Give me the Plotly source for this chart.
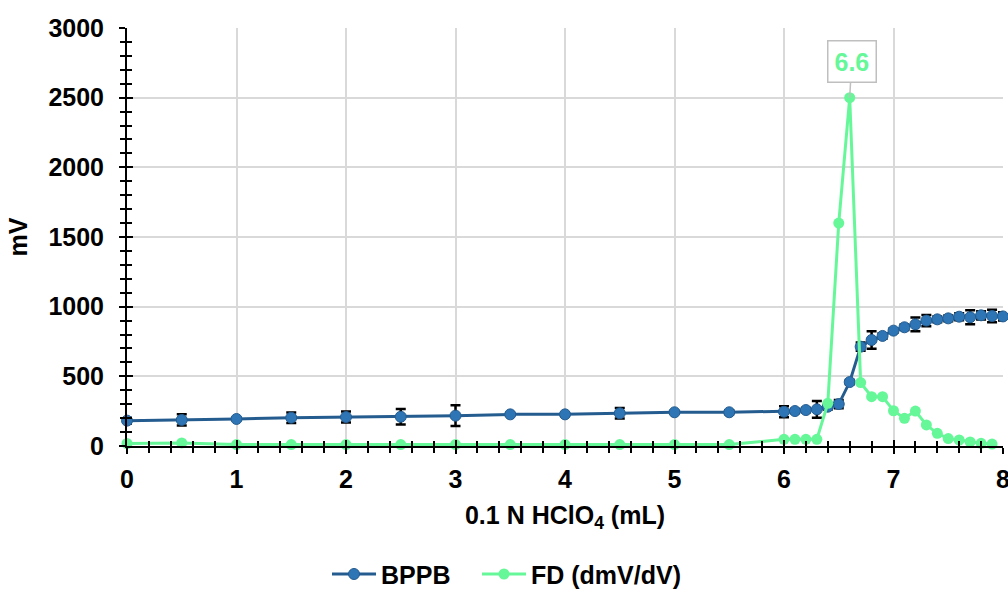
import plotly.graph_objects as go

# Titrant volume (mL) and potential readings
vol_bppb = [0, 0.5, 1, 1.5, 2, 2.5, 3, 3.5, 4, 4.5, 5, 5.5,
            6.0, 6.1, 6.2, 6.3, 6.4, 6.5, 6.6, 6.7, 6.8, 6.9,
            7.0, 7.1, 7.2, 7.3, 7.4, 7.5, 7.6, 7.7, 7.8, 7.9, 8.0]
mv_bppb = [182, 187, 194, 203, 208, 210, 218, 227, 227, 235, 242, 242,
           246, 251, 258, 263, 282, 301, 459, 713, 761, 790,
           828, 852, 873, 900, 909, 916, 928, 924, 938, 933, 930]
err_bppb = [20, 40, 10, 38, 40, 55, 75, 10, 10, 38, 10, 15,
            40, 15, 15, 60, 20, 30, 15, 30, 63, 20,
            15, 20, 50, 40, 20, 20, 25, 50, 30, 45, 30]

# First derivative curve
vol_fd = [0, 0.5, 1, 1.5, 2, 2.5, 3, 3.5, 4, 4.5, 5, 5.5,
          6.0, 6.1, 6.2, 6.3, 6.4, 6.5, 6.6, 6.7, 6.8, 6.9,
          7.0, 7.1, 7.2, 7.3, 7.4, 7.5, 7.6, 7.7, 7.8, 7.9]
fd = [18, 22, 10, 10, 10, 10, 10, 10, 10, 10, 10, 10,
      48, 48, 48, 48, 306, 1600, 2500, 455, 354, 354,
      253, 199, 251, 151, 91, 53, 43, 29, 19, 14]

BLUE_LINE = "#245c8f"
BLUE_FILL = "#2e75b6"
GREEN = "#66f799"
FONT = "Liberation Sans"

fig = go.Figure()

fig.add_trace(go.Scatter(
    x=vol_bppb, y=mv_bppb, name="BPPB", mode="lines+markers",
    line=dict(color=BLUE_LINE, width=3),
    marker=dict(size=11, color=BLUE_FILL, line=dict(color=BLUE_LINE, width=1)),
    error_y=dict(type="data", array=err_bppb, visible=True,
                 color="black", thickness=2.5, width=5),
    cliponaxis=False, legend="legend",
))

fig.add_trace(go.Scatter(
    x=vol_fd, y=fd, name="FD (dmV/dV)", mode="lines+markers",
    line=dict(color=GREEN, width=3),
    marker=dict(size=11, color=GREEN),
    cliponaxis=False, legend="legend2",
))

# Invisible trace that carries the inner half of the crossing ticks
fig.add_trace(go.Scatter(x=[0], y=[0], xaxis="x2", yaxis="y2",
                         mode="markers", marker=dict(opacity=0),
                         showlegend=False, hoverinfo="skip"))

peak_i = fd.index(max(fd))
peak_x = vol_fd[peak_i]
fig.add_annotation(
    x=peak_x, y=fd[peak_i], text=f"{peak_x:.1f}",
    showarrow=True, arrowhead=0, arrowcolor="#bfbfbf", arrowwidth=1.5,
    ax=2, ay=-36, standoff=0,
    bordercolor="#bfbfbf", borderwidth=1.5, borderpad=6, bgcolor="white",
    font=dict(family=FONT, size=25, color=GREEN, weight=700),
)

tickfont = dict(family=FONT, size=25, color="black", weight=700)
legend_font = dict(family=FONT, size=25, color="black", weight=700)

fig.update_layout(
    width=1008, height=592,
    margin=dict(l=127, r=5, t=28, b=146),
    paper_bgcolor="white", plot_bgcolor="white",
    showlegend=True,
    legend=dict(orientation="h", xref="container", x=327 / 1008, xanchor="left",
                yref="container", y=0.03, yanchor="middle",
                font=legend_font, itemwidth=44),
    legend2=dict(orientation="h", xref="container", x=477 / 1008, xanchor="left",
                 yref="container", y=0.03, yanchor="middle",
                 font=legend_font, itemwidth=44),
    xaxis=dict(
        range=[0, 8], dtick=1, tick0=0, automargin=False,
        showgrid=True, gridcolor="#d9d9d9", gridwidth=2,
        showline=True, linecolor="black", linewidth=2,
        ticks="outside", ticklen=6, tickwidth=2, tickcolor="black",
        minor=dict(dtick=0.2, ticks="outside", ticklen=5, tickwidth=1.5,
                   tickcolor="black", showgrid=False),
        tickfont=tickfont, zeroline=False, ticklabeloverflow="allow",
        ticklabelstandoff=4,
        title=dict(text="0.1 N HClO<sub>4</sub> (mL)", font=tickfont, standoff=14),
    ),
    yaxis=dict(
        range=[0, 3000], dtick=500, tick0=0, automargin=False,
        showgrid=True, gridcolor="#d9d9d9", gridwidth=2,
        showline=True, linecolor="black", linewidth=2,
        ticks="outside", ticklen=6, tickwidth=2, tickcolor="black",
        minor=dict(dtick=100, ticks="outside", ticklen=5, tickwidth=1.5,
                   tickcolor="black", showgrid=False),
        tickfont=tickfont, zeroline=False, ticklabelstandoff=10,
        title=dict(text="mV", font=tickfont, standoff=14),
    ),
    xaxis2=dict(
        overlaying="x", anchor="y2", range=[0, 8], dtick=1,
        showgrid=False, showline=False, zeroline=False, showticklabels=False,
        ticks="inside", ticklen=6, tickwidth=2, tickcolor="black",
        minor=dict(dtick=0.2, ticks="inside", ticklen=5, tickwidth=1.5,
                   tickcolor="black", showgrid=False),
    ),
    yaxis2=dict(
        overlaying="y", anchor="x2", range=[0, 3000], dtick=500,
        showgrid=False, showline=False, zeroline=False, showticklabels=False,
        ticks="inside", ticklen=6, tickwidth=2, tickcolor="black",
        minor=dict(dtick=100, ticks="inside", ticklen=5, tickwidth=1.5,
                   tickcolor="black", showgrid=False),
    ),
)

fig.write_html("out.html")
